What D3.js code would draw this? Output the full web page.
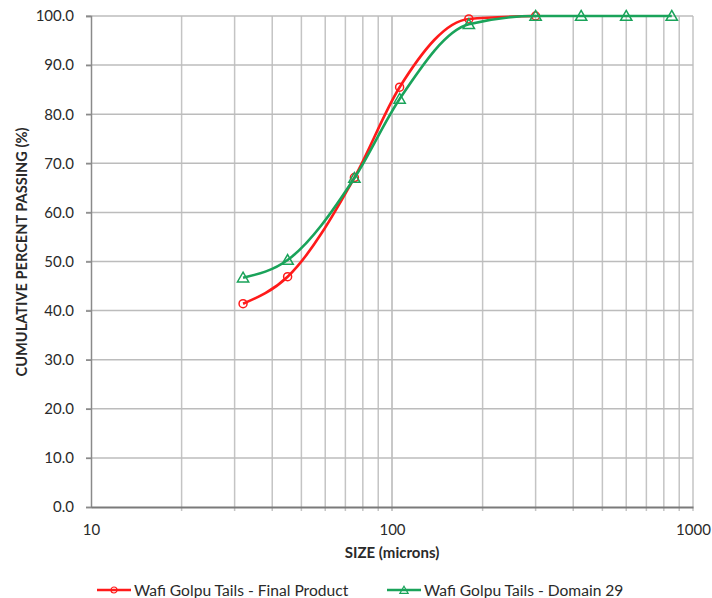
<!DOCTYPE html>
<html>
<head>
<meta charset="utf-8">
<script src="https://cdn.jsdelivr.net/npm/d3@7"></script>
<style>
  body { margin: 0; background: #fff; }
  text { font-family: Lato, "Open Sans", sans-serif; fill: #2a2a2a; }
</style>
</head>
<body>
<div id="chart"></div>
<script>
// data
const redSizes = [32, 45, 75, 106, 180, 300];
const redValues = [41.4, 46.9, 67.1, 85.5, 99.4, 100.0];
const greenSizes = [32, 45, 75, 106, 180, 300, 425, 600, 850];
const greenValues = [46.7, 50.3, 67.0, 83.1, 98.3, 100.0, 100.0, 100.0, 100.0];
const yTicks = [0, 10, 20, 30, 40, 50, 60, 70, 80, 90, 100];
const xLabelTicks = [10, 100, 1000];
const seriesNames = ["Wafi Golpu Tails - Final Product", "Wafi Golpu Tails - Domain 29"];

const svgWidth = 712, svgHeight = 598;
const plotLeft = 91, plotRight = 693, plotTop = 16, plotBottom = 507;

const svg = d3.select("#chart")
    .append("svg")
    .attr("width", svgWidth)
    .attr("height", svgHeight);

const x = d3.scaleLog().domain([10, 1000]).range([plotLeft, plotRight]);
const y = d3.scaleLinear().domain([0, 100]).range([plotBottom, plotTop]);

// minor + major vertical grid
const xGrid = [];
for (let d = 10; d < 1000; d *= 10) {
    for (let k = 1; k <= 10; k++) xGrid.push(d * k);
}
svg.append("g")
    .selectAll("line")
    .data(xGrid.filter(v => v > 10))
    .join("line")
    .attr("x1", d => x(d)).attr("x2", d => x(d))
    .attr("y1", plotTop).attr("y2", plotBottom + 4)
    .attr("stroke", "#c4c4c4")
    .attr("stroke-width", 1.5);

svg.append("g")
    .selectAll("line")
    .data(yTicks.filter(v => v > 0))
    .join("line")
    .attr("x1", plotLeft - 5).attr("x2", plotRight)
    .attr("y1", d => y(d)).attr("y2", d => y(d))
    .attr("stroke", "#bcbcbc")
    .attr("stroke-width", 1.5);

// y axis
const yAxis = svg.append("g")
    .attr("transform", `translate(${plotLeft},0)`)
    .call(d3.axisLeft(y).tickValues(yTicks).tickFormat(d3.format(".1f")).tickSize(5).tickPadding(12));
yAxis.select(".domain").attr("stroke", "#8a8a8a").attr("stroke-width", 1.5);
yAxis.selectAll(".tick line").attr("stroke", "#8a8a8a").attr("stroke-width", 1.5);
yAxis.selectAll("text").style("font-size", "15px").attr("fill", "#2a2a2a");

// x axis
const xAxis = svg.append("g")
    .attr("transform", `translate(0,${plotBottom})`)
    .call(d3.axisBottom(x).tickValues(xLabelTicks).tickFormat(d3.format("d")).tickSize(0).tickPadding(17));
xAxis.select(".domain").attr("stroke", "#7a7a7a").attr("stroke-width", 2);
xAxis.selectAll("text").style("font-size", "15px").attr("fill", "#2a2a2a");

// axis titles
svg.append("text")
    .attr("x", (plotLeft + plotRight) / 2)
    .attr("y", 558)
    .attr("text-anchor", "middle")
    .style("font-size", "15px")
    .style("font-weight", "bold")
    .text("SIZE (microns)");

svg.append("text")
    .attr("transform", `translate(27,252) rotate(-90)`)
    .attr("text-anchor", "middle")
    .style("font-size", "14.6px")
    .style("font-weight", "bold")
    .text("CUMULATIVE PERCENT PASSING (%)");

const line = d3.line()
    .x(d => x(d[0]))
    .y(d => y(d[1]))
    .curve(d3.curveMonotoneX);

const red = "#ff1a1a", green = "#1aa35a";
const redData = redSizes.map((s, i) => [s, redValues[i]]);
const greenData = greenSizes.map((s, i) => [s, greenValues[i]]);

const tri = d3.symbol().type(d3.symbolTriangle).size(55);

function add_series(data, color, marker) {
    svg.append("path")
        .datum(data)
        .attr("d", line)
        .attr("fill", "none")
        .attr("stroke", color)
        .attr("stroke-width", 2.6);
    const g = svg.append("g");
    if (marker === "circle") {
        g.selectAll("circle")
            .data(data)
            .join("circle")
            .attr("cx", d => x(d[0]))
            .attr("cy", d => y(d[1]))
            .attr("r", 4)
            .attr("fill", "none")
            .attr("stroke", color)
            .attr("stroke-width", 1.5);
    } else {
        g.selectAll("path")
            .data(data)
            .join("path")
            .attr("d", tri)
            .attr("transform", d => `translate(${x(d[0])},${y(d[1]) + 1})`)
            .attr("fill", "none")
            .attr("stroke", color)
            .attr("stroke-width", 1.5);
    }
}
add_series(redData, red, "circle");
add_series(greenData, green, "triangle");

// legend
const legend = [
    {name: seriesNames[0], color: red, marker: "circle", x: 97},
    {name: seriesNames[1], color: green, marker: "triangle", x: 387}
];
const lg = svg.append("g").selectAll("g")
    .data(legend)
    .join("g")
    .attr("transform", d => `translate(${d.x},590)`);
lg.append("line")
    .attr("x1", 0).attr("x2", 34)
    .attr("stroke", d => d.color)
    .attr("stroke-width", 2.6);
lg.each(function(d) {
    const g = d3.select(this);
    if (d.marker === "circle") {
        g.append("circle").attr("cx", 17).attr("r", 3).attr("fill", "none")
            .attr("stroke", d.color).attr("stroke-width", 1.2);
    } else {
        g.append("path").attr("d", d3.symbol().type(d3.symbolTriangle).size(30))
            .attr("transform", "translate(17,1)").attr("fill", "none")
            .attr("stroke", d.color).attr("stroke-width", 1.2);
    }
});
lg.append("text")
    .attr("x", 37)
    .attr("y", 5.5)
    .style("font-size", "15.6px")
    .text(d => d.name);
</script>
</body>
</html>
